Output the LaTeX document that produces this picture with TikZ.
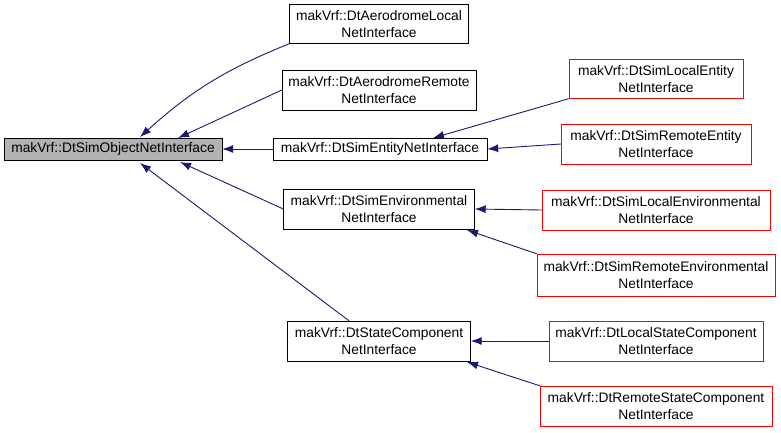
\documentclass[tikz,border=0pt]{standalone}
\usepackage{fontspec}
\setmainfont{Liberation Sans}
\definecolor{edgeblue}{HTML}{191970}
\begin{document}
\begin{tikzpicture}[x=1pt, y=-1pt,
cls/.style = {rectangle, draw=black, align=center, inner sep=2pt, font=\fontsize{13.8}{16.5}\selectfont},
ext/.style = {cls, draw=red},
inh/.style = {draw=edgeblue, line width=0.9pt, -{Latex[length=11pt,width=8pt]}}]
\usetikzlibrary{arrows.meta}
\useasboundingbox (0,0) rectangle (781,432);
\node[cls, fill=black!30, minimum width=218, minimum height=22] at (113,149) (obj) {makVrf::DtSimObjectNetInterface};
\node[cls, minimum width=179, minimum height=39] at (379,24) (adl) {makVrf::DtAerodromeLocal\\NetInterface};
\node[cls, minimum width=194, minimum height=40] at (379,90) (adr) {makVrf::DtAerodromeRemote\\NetInterface};
\node[cls, minimum width=214, minimum height=22] at (380,149) (ent) {makVrf::DtSimEntityNetInterface};
\node[ext, minimum width=174, minimum height=39] at (656,79) (entl) {makVrf::DtSimLocalEntity\\NetInterface};
\node[ext, minimum width=190, minimum height=40] at (656,144) (entr) {makVrf::DtSimRemoteEntity\\NetInterface};
\node[cls, minimum width=191, minimum height=40] at (379,209) (env) {makVrf::DtSimEnvironmental\\NetInterface};
\node[ext, minimum width=228, minimum height=40] at (656,210) (envl) {makVrf::DtSimLocalEnvironmental\\NetInterface};
\node[ext, minimum width=238, minimum height=42] at (656,275) (envr) {makVrf::DtSimRemoteEnvironmental\\NetInterface};
\node[cls, minimum width=183, minimum height=40] at (379,341) (sc) {makVrf::DtStateComponent\\NetInterface};
\node[ext, minimum width=214, minimum height=40] at (656,341) (scl) {makVrf::DtLocalStateComponent\\NetInterface};
\node[ext, minimum width=232, minimum height=40] at (656,406) (scr) {makVrf::DtRemoteStateComponent\\NetInterface};
\draw[inh] (adl.south west) to[bend right=10] (140,137);
\draw[inh] (adr.west) -- (178,138);
\draw[inh] (ent) -- (obj);
\draw[inh] (env.west) -- (180,162);
\draw[inh] (sc.north) ++(-30,0) -- (140,163);
\draw[inh] (entl.south west) -- (433,138);
\draw[inh] (entr.west) -- (ent.east);
\draw[inh] (envl.west) -- (env.east);
\draw[inh] (envr.north west) -- (467,230);
\draw[inh] (scl) -- (sc);
\draw[inh] (scr.north west) -- (467,362);
\end{tikzpicture}
\end{document}
